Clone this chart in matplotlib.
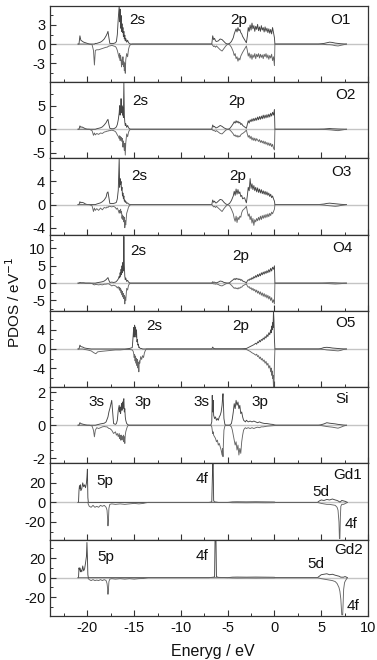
import matplotlib
matplotlib.use('Agg')
import matplotlib.pyplot as plt
from matplotlib.ticker import MultipleLocator

plt.rcParams['font.family'] = ['Liberation Sans', 'DejaVu Sans']
plt.rcParams['axes.unicode_minus'] = False

# energy grids (eV)
EA = [-21.0, -20.9, -20.8, -20.7, -20.6, -20.4, -20.2, -20.0, -19.8, -19.5,
      -19.35, -19.25, -19.15, -19.0, -18.8, -18.6, -18.4, -18.2, -18.0, -17.9,
      -17.8, -17.7, -17.6, -17.4, -17.2, -17.0, -16.9, -16.8, -16.7, -16.6,
      -16.55, -16.5, -16.45, -16.4, -16.35, -16.3, -16.25, -16.2, -16.15, -16.1,
      -16.05, -16.0, -15.95, -15.9, -15.8, -15.7, -15.6, -15.5, -15.4, -15.2,
      -15.0]
EB = [-6.7, -6.6, -6.5, -6.4, -6.3, -6.2, -6.0, -5.8, -5.6, -5.4,
      -5.2, -5.0, -4.8, -4.6, -4.4, -4.3, -4.2, -4.1, -4.0, -3.9,
      -3.8, -3.7, -3.6, -3.5, -3.4, -3.2, -3.0, -2.9, -2.8, -2.7,
      -2.6, -2.5, -2.4, -2.3, -2.2, -2.1, -2.0, -1.9, -1.8, -1.7,
      -1.6, -1.5, -1.4, -1.3, -1.2, -1.1, -1.0, -0.9, -0.8, -0.7,
      -0.6, -0.5, -0.4, -0.3, -0.2, -0.1, 0.0, 0.05]
EC = [4.7, 5.0, 5.3, 5.6, 5.9, 6.2, 6.5, 6.8, 7.1, 7.4, 7.7]

# ---- O1
o1_a_up = [0, 0, 1.3, 0.6, 0.5, 0.3, 0.2, 0.1, 0, 0,
           0, 0, 0.1, 0.1, 0.2, 0.3, 0.5, 0.8, 1.3, 1.6,
           2.0, 1.0, 0.1, 0.1, 0.1, 0.2, 0.4, 1.5, 4.0, 6.0,
           3.5, 5.5, 2.5, 4.5, 2.0, 3.2, 1.8, 2.6, 1.2, 2.0,
           0.8, 1.4, 0.5, 0.9, 0.3, 0.6, 0.2, 0.1, 0, 0,
           0]
o1_a_dn = [0, 0, 0, 0, 0, 0, 0, 0, 0, -0.1,
           -1.0, -3.3, -1.0, -0.9, -0.9, -0.8, -0.7, -0.6, -0.5, -0.5,
           -0.4, -0.3, -0.3, -0.2, -0.3, -0.4, -0.6, -1.0, -1.6, -2.2,
           -1.5, -2.6, -1.8, -2.4, -3.6, -2.5, -3.2, -2.0, -3.5, -2.8,
           -4.2, -3.0, -4.6, -2.5, -1.5, -2.0, -0.8, -0.3, -0.1, 0,
           0]
o1_b_up = [0, 1.3, 0.7, 0.9, 0.5, 0.4, 0.5, 0.8, 0.7, 0.4,
           0.1, 0.0, 0.1, 0.4, 1.0, 1.6, 2.0, 2.4, 1.9, 2.6,
           2.1, 2.3, 1.8, 1.6, 1.2, 0.7, 0.2, 1.2, 2.6, 2.0,
           3.0, 2.2, 3.3, 2.4, 2.9, 2.0, 2.8, 2.3, 3.1, 2.1,
           2.7, 2.0, 2.9, 2.2, 2.6, 1.9, 2.7, 2.0, 2.5, 1.8,
           2.4, 1.7, 2.3, 1.6, 2.6, 1.8, 1.0, 0]
o1_b_dn = [0, -0.2, -0.4, -0.3, -0.5, -0.3, -0.6, -0.9, -1.1, -0.7,
           -0.3, 0.0, -0.1, -0.5, -1.2, -1.8, -1.5, -2.3, -2.0, -2.7,
           -2.2, -2.5, -1.9, -1.6, -1.3, -0.8, -0.3, -1.0, -1.9, -1.4,
           -2.2, -1.6, -2.4, -1.7, -2.1, -1.5, -2.3, -1.6, -2.0, -1.5,
           -2.2, -1.6, -2.1, -1.7, -2.3, -1.6, -2.0, -1.5, -2.2, -1.7,
           -2.4, -1.8, -2.2, -1.6, -2.6, -2.0, -3.4, 0]
o1_c_up = [0, 0.05, 0.1, 0.2, 0.3, 0.25, 0.15, 0.1, 0.05, 0.02, 0]
o1_c_dn = [0, -0.02, -0.05, -0.1, -0.1, -0.15, -0.25, -0.3, -0.2, -0.1, 0]

# ---- O2
o2_a_up = [0, 0, 0.7, 0.4, 0.5, 0.3, 0.1, 0, 0, 0,
           0, 0, 0, 0.1, 0.2, 0.3, 0.5, 0.9, 1.4, 1.8,
           2.1, 1.0, 0.2, 0.1, 0.1, 0.3, 0.5, 1.0, 2.0, 3.5,
           5.0, 3.0, 4.0, 6.5, 3.5, 5.0, 3.0, 4.5, 2.5, 10.0,
           3.0, 1.5, 0.8, 1.2, 0.4, 0.8, 0.3, 0.1, 0, 0,
           0]
o2_a_dn = [0, 0, 0, 0, 0, 0, 0, 0, 0, -0.3,
           -1.3, -0.8, -1.2, -0.9, -1.1, -0.8, -0.9, -0.6, -0.5, -0.4,
           -0.4, -0.3, -0.3, -0.2, -0.3, -0.5, -0.8, -1.2, -1.5, -2.0,
           -1.4, -2.4, -1.6, -2.2, -1.8, -2.6, -2.0, -3.8, -2.5, -3.5,
           -4.5, -3.0, -5.5, -3.0, -1.0, -1.6, -0.6, -0.2, 0, 0,
           0]
o2_b_up = [0, 0.9, 0.5, 0.6, 0.3, 0.3, 0.5, 0.8, 0.6, 0.3,
           0.1, 0, 0.1, 0.6, 1.2, 1.6, 1.3, 1.8, 1.4, 1.7,
           1.3, 1.5, 1.0, 1.2, 0.8, 0.5, 0.2, 1.0, 1.8, 1.3,
           2.0, 1.6, 2.2, 1.7, 2.3, 1.8, 2.4, 1.9, 2.6, 2.0,
           2.7, 2.1, 2.8, 2.2, 3.0, 2.3, 3.0, 2.4, 3.1, 2.5,
           3.2, 2.6, 3.4, 2.8, 3.6, 3.0, 4.2, 0]
o2_b_dn = [0, -0.2, -0.3, -0.3, -0.5, -0.3, -0.6, -0.9, -1.0, -0.6,
           -0.2, 0, -0.1, -0.5, -1.0, -1.4, -1.2, -1.6, -1.3, -1.7,
           -1.4, -1.6, -1.2, -1.0, -0.9, -0.6, -0.2, -1.0, -1.7, -1.3,
           -2.0, -1.5, -2.3, -1.8, -2.4, -1.9, -2.5, -2.0, -2.3, -2.6,
           -2.2, -2.8, -2.4, -2.9, -2.5, -3.1, -2.6, -3.2, -2.8, -3.4,
           -2.9, -3.5, -3.0, -3.7, -3.2, -4.0, -4.4, 0]
o2_c_up = [0, 0.03, 0.05, 0.1, 0.15, 0.1, 0.08, 0.05, 0.03, 0.02, 0]
o2_c_dn = [0, -0.02, -0.05, -0.08, -0.12, -0.18, -0.25, -0.3, -0.2, -0.1, 0]

# ---- O3
o3_a_up = [0, 0, 0.5, 0.3, 0.4, 0.3, 0.1, 0, 0, 0,
           0, 0, 0, 0.1, 0.2, 0.3, 0.5, 0.8, 1.3, 2.0,
           2.2, 1.2, 0.2, 0.2, 0.2, 0.3, 0.4, 1.0, 2.5, 8.0,
           3.0, 4.5, 3.5, 4.0, 2.5, 3.0, 1.5, 2.0, 1.0, 1.5,
           0.6, 0.8, 0.4, 0.6, 0.2, 0.3, 0.1, 0.05, 0, 0,
           0]
o3_a_dn = [0, 0, 0, 0, 0, 0, 0, 0, 0, -0.2,
           -1.2, -0.6, -1.0, -0.7, -1.0, -0.6, -0.9, -0.5, -0.6, -0.4,
           -0.5, -0.3, -0.3, -0.4, -0.3, -0.5, -0.8, -0.6, -1.0, -1.5,
           -1.0, -1.4, -0.8, -1.5, -1.2, -2.4, -1.8, -2.6, -2.0, -3.0,
           -2.2, -4.0, -2.8, -3.5, -1.5, -1.0, -0.4, -0.2, 0, 0,
           0]
o3_b_up = [0, 0.8, 0.4, 0.6, 0.3, 0.3, 0.6, 0.9, 0.8, 0.4,
           0.1, 0, 0.2, 0.7, 1.5, 2.3, 1.6, 2.7, 1.8, 2.6,
           1.9, 2.2, 1.4, 1.6, 1.0, 1.2, 0.3, 1.5, 3.0, 2.4,
           4.5, 2.8, 3.6, 2.6, 3.3, 2.4, 3.0, 2.2, 2.9, 2.1,
           2.7, 2.0, 2.6, 1.9, 2.4, 1.8, 2.3, 1.7, 2.2, 1.6,
           2.0, 1.4, 1.8, 1.2, 1.5, 1.0, 0.6, 0]
o3_b_dn = [0, -0.2, -0.4, -0.3, -0.5, -0.3, -0.6, -0.9, -1.2, -0.7,
           -0.3, 0, -0.2, -0.8, -1.6, -2.4, -2.9, -2.0, -3.1, -2.2,
           -2.6, -2.0, -2.2, -1.4, -1.0, -0.7, -0.3, -1.2, -2.0, -1.6,
           -2.6, -2.0, -3.2, -2.4, -3.6, -2.6, -3.0, -2.4, -2.8, -2.2,
           -2.7, -2.0, -2.6, -1.9, -2.4, -1.8, -2.3, -1.7, -2.2, -1.6,
           -2.1, -1.5, -1.9, -1.3, -1.6, -1.2, -0.8, 0]
o3_c_up = [0, 0.05, 0.1, 0.2, 0.25, 0.2, 0.15, 0.1, 0.05, 0.02, 0]
o3_c_dn = [0, -0.03, -0.08, -0.15, -0.2, -0.25, -0.3, -0.25, -0.15, -0.08, 0]

# ---- O4
o4_a_up = [0, 0, 0.2, 0.1, 0.1, 0.1, 0, 0, 0, 0,
           0, 0, 0, 0.1, 0.2, 0.3, 0.4, 0.6, 1.0, 1.3,
           1.6, 0.8, 0.2, 0.3, 0.2, 0.3, 0.5, 0.8, 1.2, 2.0,
           1.5, 3.0, 2.0, 4.0, 2.5, 5.0, 3.0, 6.0, 3.5, 13.5,
           5.0, 2.0, 1.0, 1.5, 0.5, 0.8, 0.3, 0.1, 0, 0,
           0]
o4_a_dn = [0, 0, 0, 0, 0, 0, 0, 0, 0, -0.1,
           -0.4, -0.5, -0.4, -0.4, -0.5, -0.4, -0.5, -0.3, -0.3, -0.2,
           -0.2, -0.2, -0.4, -0.8, -0.6, -0.8, -1.0, -1.4, -1.0, -1.8,
           -1.2, -2.2, -1.5, -2.8, -2.0, -3.4, -2.4, -4.0, -3.0, -4.5,
           -3.5, -6.0, -4.0, -5.0, -1.5, -2.0, -0.6, -0.2, 0, 0,
           0]
o4_b_up = [0, 0.4, 0.2, 0.3, 0.1, 0.1, 0.3, 0.6, 0.5, 0.2,
           0.1, 0, 0.1, 0.6, 1.0, 1.3, 1.0, 1.4, 1.1, 1.3,
           1.0, 1.2, 0.8, 1.0, 0.6, 0.4, 0.1, 0.6, 1.0, 0.8,
           1.3, 1.0, 1.6, 1.2, 1.9, 1.5, 2.2, 1.7, 2.5, 1.9,
           2.7, 2.1, 3.0, 2.4, 3.2, 2.6, 3.4, 2.8, 3.6, 3.0,
           3.9, 3.2, 4.3, 3.5, 4.6, 4.0, 5.0, 0]
o4_b_dn = [0, -0.1, -0.2, -0.2, -0.3, -0.2, -0.4, -0.7, -0.8, -0.5,
           -0.2, 0, -0.1, -0.6, -1.2, -1.5, -1.3, -1.6, -1.4, -1.7,
           -1.3, -1.5, -1.1, -1.2, -0.8, -0.5, -0.2, -0.8, -1.2, -1.0,
           -1.6, -1.3, -2.0, -1.5, -2.2, -1.8, -2.6, -2.0, -2.9, -2.3,
           -3.2, -2.5, -3.5, -2.8, -3.8, -3.0, -4.0, -3.3, -4.3, -3.5,
           -4.6, -3.8, -5.0, -4.2, -5.6, -4.8, -6.0, 0]
o4_c_up = [0, 0.02, 0.05, 0.08, 0.1, 0.1, 0.08, 0.05, 0.03, 0.02, 0]
o4_c_dn = [0, -0.02, -0.05, -0.1, -0.15, -0.2, -0.25, -0.2, -0.15, -0.05, 0]

# ---- O5
o5_a_e = [-21.0, -20.9, -20.8, -20.7, -20.5, -20.3, -20.0, -19.6, -19.3, -19.1,
          -18.9, -18.5, -18.0, -17.5, -17.0, -16.5, -16.0, -15.5, -15.2, -15.1,
          -15.05, -15.0, -14.95, -14.9, -14.85, -14.8, -14.75, -14.7, -14.65, -14.6,
          -14.55, -14.5, -14.45, -14.4, -14.3, -14.2, -14.1, -14.0, -13.9, -13.8,
          -13.7, -13.5]
o5_a_up = [0, 0, 0.8, 0.5, 0.4, 0.2, 0.1, 0, 0, 0,
           0, 0, 0, 0, 0, 0, 0, 0.1, 0.3, 3.0,
           4.5, 2.5, 5.0, 3.0, 4.6, 2.5, 4.0, 1.5, 2.0, 0.8,
           1.0, 0.3, 0.4, 0.2, 0.1, 0.1, 0, 0, 0, 0,
           0, 0]
o5_a_dn = [0, 0, 0, 0, 0, -0.1, -0.2, -0.4, -0.8, -1.0,
           -0.6, -0.5, -0.4, -0.3, -0.2, -0.2, -0.1, -0.1, -0.2, -0.5,
           -1.0, -1.8, -1.2, -2.5, -1.5, -3.0, -2.0, -3.5, -2.2, -4.0,
           -2.8, -4.8, -2.5, -3.0, -1.6, -2.2, -1.4, -1.8, -0.8, -0.3,
           0, 0]
o5_b_e = [-6.7, -6.6, -6.5, -6.3, -6.0, -5.5, -5.0, -4.5, -4.0, -3.5,
          -3.0, -2.8, -2.6, -2.4, -2.2, -2.0, -1.9, -1.8, -1.7, -1.6,
          -1.5, -1.4, -1.3, -1.2, -1.1, -1.0, -0.9, -0.8, -0.7, -0.6,
          -0.5, -0.4, -0.35, -0.3, -0.25, -0.2, -0.15, -0.1, -0.05, 0.0,
          0.05]
o5_b_up = [0, 0.4, 0.1, 0.05, 0.05, 0.05, 0.05, 0.05, 0.05, 0.05,
           0.1, 0.3, 0.5, 0.7, 0.9, 1.2, 1.0, 1.5, 1.3, 1.8,
           1.5, 2.0, 1.8, 2.3, 2.0, 2.6, 2.3, 3.0, 2.6, 3.4,
           3.0, 4.0, 3.4, 4.8, 4.0, 5.5, 4.5, 8.0, 6.0, 2.0,
           0]
o5_b_dn = [0, -0.05, -0.05, -0.05, -0.05, -0.05, -0.05, -0.05, -0.05, -0.05,
           -0.1, -0.3, -0.5, -0.8, -1.0, -1.3, -1.1, -1.6, -1.4, -2.0,
           -1.7, -2.3, -2.0, -2.6, -2.3, -3.0, -2.6, -3.4, -3.0, -4.0,
           -3.5, -4.8, -4.0, -5.5, -4.6, -6.2, -5.5, -8.0, -8.0, -3.0,
           0]
o5_c_up = [0, 0.1, 0.3, 0.35, 0.3, 0.2, 0.15, 0.1, 0.05, 0.02, 0]
o5_c_dn = [0, -0.05, -0.1, -0.2, -0.25, -0.3, -0.35, -0.4, -0.3, -0.1, 0]

# ---- Si
si_a_up = [0, 0, 0.15, 0.1, 0.08, 0.05, 0.02, 0, 0, 0,
           0, 0, 0, 0.02, 0.05, 0.08, 0.1, 0.12, 0.2, 0.35,
           0.5, 0.8, 1.0, 1.5, 0.1, 0.05, 0.1, 0.3, 0.9, 1.2,
           0.8, 1.1, 0.7, 1.0, 1.3, 0.9, 1.4, 1.0, 1.5, 1.6,
           0.8, 1.0, 0.5, 0.3, 0.1, 0.05, 0, 0, 0, 0,
           0]
si_a_dn = [0, 0, 0, 0, 0, 0, 0, 0, 0, -0.05,
           -0.3, -0.7, -0.3, -0.15, -0.2, -0.15, -0.1, -0.08, -0.1, -0.1,
           -0.15, -0.2, -0.2, -0.3, -0.5, -0.4, -0.6, -0.5, -0.7, -0.5,
           -0.8, -0.6, -0.9, -0.7, -0.6, -0.9, -0.7, -0.8, -0.6, -1.0,
           -0.7, -1.1, -0.6, -0.4, -0.2, -0.05, 0, 0, 0, 0,
           0]
si_b_e = [-6.8, -6.7, -6.65, -6.6, -6.55, -6.5, -6.4, -6.3, -6.2, -6.1,
          -6.0, -5.9, -5.8, -5.7, -5.6, -5.55, -5.5, -5.45, -5.4, -5.3,
          -5.2, -5.0, -4.8, -4.6, -4.5, -4.4, -4.3, -4.2, -4.1, -4.0,
          -3.9, -3.8, -3.7, -3.6, -3.5, -3.4, -3.3, -3.2, -3.1, -3.0,
          -2.8, -2.6, -2.4, -2.2, -2.0, -1.8, -1.6, -1.4, -1.2, -1.0,
          -0.8, -0.6, -0.4, -0.2, 0.0, 0.2]
si_b_up = [0, 0.2, 1.8, 0.8, 1.5, 0.6, 0.4, 0.5, 0.3, 0.4,
           0.3, 0.5, 0.6, 0.8, 1.2, 1.6, 1.9, 1.2, 0.4, 0.05,
           0, 0, 0, 0.1, 0.4, 0.8, 1.3, 1.0, 1.5, 1.2,
           1.4, 1.0, 1.2, 0.7, 0.8, 0.5, 0.3, 0.25, 0.2, 0.3,
           0.2, 0.25, 0.2, 0.25, 0.2, 0.15, 0.2, 0.15, 0.12, 0.1,
           0.1, 0.08, 0.06, 0.05, 0.02, 0]
si_b_dn = [0, -0.1, -0.3, -0.5, -0.4, -0.6, -0.7, -0.8, -1.0, -0.9,
           -1.2, -1.1, -1.3, -1.5, -1.8, -1.4, -1.9, -1.0, -0.3, -0.05,
           0, 0, 0, -0.1, -0.3, -0.6, -0.9, -1.2, -1.0, -1.5,
           -1.2, -1.8, -1.4, -1.7, -1.0, -0.6, -0.3, -0.2, -0.15, -0.2,
           -0.15, -0.2, -0.15, -0.2, -0.15, -0.12, -0.15, -0.1, -0.1, -0.08,
           -0.06, -0.05, -0.04, -0.03, -0.02, 0]
si_c_up = [0, 0.03, 0.08, 0.15, 0.12, 0.1, 0.08, 0.05, 0.03, 0.01, 0]
si_c_dn = [0, -0.02, -0.05, -0.08, -0.1, -0.12, -0.15, -0.18, -0.12, -0.05, 0]

# ---- Gd1
gd1_e = [-21.0, -20.95, -20.9, -20.85, -20.8, -20.75, -20.7, -20.6, -20.5, -20.4,
         -20.3, -20.2, -20.1, -20.05, -20.0, -19.95, -19.9, -19.8, -19.6, -19.4,
         -19.2, -19.0, -18.8, -18.6, -18.4, -18.2, -18.0, -17.9, -17.85, -17.8,
         -17.75, -17.7, -17.6, -17.4, -17.0, -16.5, -16.0, -15.5, -15.0, -14.5,
         -14.0, -13.8, -13.5, -7.0, -6.7, -6.6, -6.55, -6.5, -6.45, -6.4,
         -6.2, -6.0, -5.0, -4.5, -4.0, -3.0, -2.0, -1.0, 0.0, 0.1,
         4.6, 4.8, 5.0, 5.3, 5.6, 5.9, 6.2, 6.5, 6.7, 6.8,
         6.9, 6.95, 7.0, 7.05, 7.1, 7.2, 7.4, 7.6, 7.8]
gd1_up = [0, 0, 12, 17, 14, 18, 12, 14, 20, 16,
          18, 15, 20, 26, 34, 5, 0, 0, 0, 0,
          0, 0, 0, 0, 0, 0, 0, 0, 0, 0,
          0, 0, 0, 0, 0, 0, 0, 0, 0, 0,
          0, 0, 0, 0, 0.5, 40, 40, 2, 1, 0.5,
          0.3, 0, 0, 0.5, 0.6, 0.5, 0.6, 0.5, 0.4, 0,
          0, 1.5, 2.5, 2.0, 3.0, 2.5, 3.5, 2.5, 2.0, 1.5,
          1.0, 0.5, 0.5, 0.5, 1.0, 2.0, 1.5, 1.0, 0]
gd1_dn = [0, 0, 0, 0, 0, 0, 0, 0, 0, 0,
          0, 0, 0, 0, 0, 0, -2, -4, -5, -3,
          -5, -4, -5, -3, -4, -3, -5, -8, -15, -24,
          -18, -6, -2, -1.5, -2, -1.5, -2, -1.5, -1, -1.5,
          -1, -0.5, 0, 0, 0, 0, 0, 0, 0, 0,
          0, 0, 0, -0.3, -0.3, -0.4, -0.3, -0.4, -0.3, 0,
          0, -0.5, -1.0, -1.5, -2.0, -2.0, -2.5, -3.0, -5.0, -8.0,
          -20, -37, -37, -15, -4, -2, -2, -1, 0]

# ---- Gd2
gd2_e = [-21.0, -20.95, -20.9, -20.85, -20.8, -20.75, -20.7, -20.6, -20.5, -20.4,
         -20.3, -20.2, -20.1, -20.05, -20.0, -19.95, -19.9, -19.8, -19.6, -19.4,
         -19.2, -19.0, -18.8, -18.6, -18.4, -18.2, -18.0, -17.9, -17.85, -17.8,
         -17.75, -17.7, -17.6, -17.4, -17.0, -16.5, -16.0, -15.5, -15.0, -14.5,
         -14.0, -13.8, -13.5, -7.0, -6.5, -6.4, -6.35, -6.3, -6.25, -6.2,
         -6.0, -5.0, -4.5, -4.0, -3.0, -2.0, -1.0, 0.0, 0.1, 4.6,
         4.8, 5.0, 5.3, 5.6, 5.9, 6.2, 6.5, 6.7, 6.9, 7.0,
         7.1, 7.2, 7.3, 7.4, 7.5, 7.6, 7.8]
gd2_up = [0, 0, 10, 8, 10, 6, 8, 6, 12, 7,
          9, 15, 22, 36, 22, 3, 0, 0, 0, 0,
          0, 0, 0, 0, 0, 0, 0, 0, 0, 0,
          0, 0, 0, 0, 0, 0, 0, 0, 0, 0,
          0, 0, 0, 0, 0.5, 1, 39, 39, 39, 1,
          0.3, 0, 0.5, 0.6, 0.5, 0.6, 0.5, 0.4, 0, 0,
          1.5, 3.0, 3.5, 4.0, 3.0, 3.5, 2.5, 2.0, 1.5, 1.0,
          0.5, 0.5, 0.5, 0.5, 1.0, 1.0, 0]
gd2_dn = [0, 0, 0, 0, 0, 0, 0, 0, 0, 0,
          0, 0, 0, 0, 0, 0, -1, -2, -3, -2,
          -3, -2.5, -3, -2, -3, -2, -3, -6, -10, -17,
          -12, -4, -1.5, -1, -1.5, -1, -1.5, -1, -1.5, -1,
          -0.8, -0.5, 0, 0, 0, 0, 0, 0, 0, 0,
          0, 0, -0.3, -0.4, -0.3, -0.4, -0.3, -0.3, 0, 0,
          -0.5, -1.0, -1.5, -2.0, -2.5, -3.0, -4.0, -6.0, -10, -14,
          -22, -38, -38, -12, -5, -3, 0]

panels = [
    (EA + EB + EC, o1_a_up + o1_b_up + o1_c_up, o1_a_dn + o1_b_dn + o1_c_dn),
    (EA + EB + EC, o2_a_up + o2_b_up + o2_c_up, o2_a_dn + o2_b_dn + o2_c_dn),
    (EA + EB + EC, o3_a_up + o3_b_up + o3_c_up, o3_a_dn + o3_b_dn + o3_c_dn),
    (EA + EB + EC, o4_a_up + o4_b_up + o4_c_up, o4_a_dn + o4_b_dn + o4_c_dn),
    (o5_a_e + o5_b_e + EC, o5_a_up + o5_b_up + o5_c_up, o5_a_dn + o5_b_dn + o5_c_dn),
    (EA + si_b_e + EC, si_a_up + si_b_up + si_c_up, si_a_dn + si_b_dn + si_c_dn),
    (gd1_e, gd1_up, gd1_dn),
    (gd2_e, gd2_up, gd2_dn),
]

ylims = [(-6, 6), (-6.2, 10), (-5.2, 8), (-8, 14), (-8, 8), (-2.3, 2.3), (-38, 40), (-39, 39)]
yticks = [[-3, 0, 3], [-5, 0, 5], [-4, 0, 4], [-5, 0, 5, 10], [-4, 0, 4], [-2, 0, 2],
          [-20, 0, 20], [-20, 0, 20]]
yminor = [1.5, 2.5, 2, 2.5, 2, 0.5, 10, 10]

labels = [
    [('2s', -14.68, 0.82), ('2p', -3.85, 0.82), ('O1', 7.08, 0.82)],
    [('2s', -14.35, 0.75), ('2p', -3.99, 0.75), ('O2', 7.54, 0.83)],
    [('2s', -14.43, 0.77), ('2p', -3.88, 0.77), ('O3', 7.19, 0.82)],
    [('2s', -14.54, 0.79), ('2p', -3.64, 0.725), ('O4', 7.26, 0.83)],
    [('2s', -12.82, 0.795), ('2p', -3.64, 0.795), ('O5', 7.54, 0.84)],
    [('3s', -19.07, 0.81), ('3p', -14.06, 0.81), ('3s', -7.82, 0.81),
     ('3p', -1.57, 0.81), ('Si', 7.26, 0.85)],
    [('5p', -18.11, 0.767), ('4f', -7.74, 0.80), ('Gd1', 7.8, 0.847),
     ('5d', 4.94, 0.62), ('4f', 8.15, 0.21)],
    [('5p', -18.0, 0.77), ('4f', -7.74, 0.78), ('Gd2', 7.9, 0.86),
     ('5d', 4.4, 0.68), ('4f', 8.44, 0.13)],
]

fig, axes = plt.subplots(8, 1, figsize=(3.77, 6.6), dpi=100, sharex=True)
fig.subplots_adjust(left=0.1326, right=0.976, bottom=0.067, top=0.991, hspace=0)

for i, ax in enumerate(axes):
    e, up, dn = panels[i]
    ax.axhline(0, color='#c4c4c4', lw=1.0, zorder=1)
    ax.plot(e, up, color='#454545', lw=0.65, zorder=2)
    ax.plot(e, dn, color='#666666', lw=0.65, zorder=2)
    ax.set_xlim(-24, 10)
    ax.set_ylim(ylims[i])
    ax.set_yticks(yticks[i])
    ax.yaxis.set_minor_locator(MultipleLocator(yminor[i]))
    ax.xaxis.set_major_locator(MultipleLocator(5))
    ax.xaxis.set_minor_locator(MultipleLocator(2.5))
    ax.tick_params(which='both', direction='in', top=False, right=False,
                   color='#333333', labelsize=10.5, labelcolor='#111111')
    ax.tick_params(which='major', length=4, width=0.8)
    ax.tick_params(which='minor', length=2, width=0.7)
    for sp in ax.spines.values():
        sp.set_color('#333333')
        sp.set_linewidth(0.9)
    for s, x, y in labels[i]:
        ax.text(x, y, s, transform=ax.get_xaxis_transform(), ha='center',
                va='center', fontsize=11, color='#111111')

fig.text(0.037, 0.542, 'PDOS / eV$^{-1}$', rotation=90, ha='center', va='center',
         fontsize=11, color='#111111')
fig.text(0.565, 0.013, 'Eneryg / eV', ha='center', va='center', fontsize=11.5,
         color='#111111')

fig.savefig('out.png', dpi=100)
